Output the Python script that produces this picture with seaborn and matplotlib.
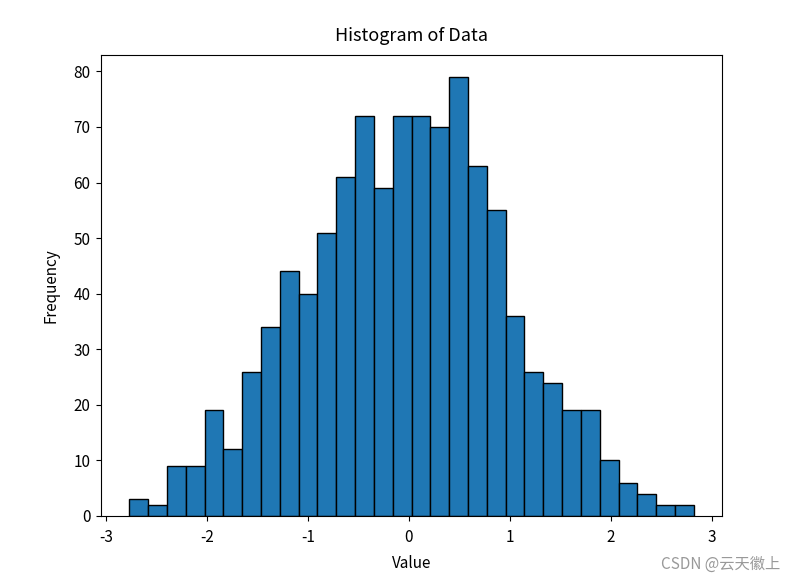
import numpy as np
import pandas as pd
import seaborn as sns
import matplotlib.pyplot as plt

# histogram counts (30 bins)
counts = [3, 2, 9, 9, 19, 12, 26, 34, 44, 40,
          51, 61, 72, 59, 72, 72, 70, 79, 63, 55,
          36, 26, 24, 19, 19, 10, 6, 4, 2, 2]
bin_lo = -2.77
bin_hi = 2.82

edges = np.linspace(bin_lo, bin_hi, len(counts) + 1)
centers = (edges[:-1] + edges[1:]) / 2
df = pd.DataFrame({'value': centers, 'count': counts})

plt.rcParams['font.family'] = ['Noto Sans CJK SC', 'DejaVu Sans']
plt.rcParams['axes.unicode_minus'] = False

fig = plt.figure(figsize=(7.96, 5.82), dpi=100)
ax = fig.add_axes([101 / 796, 66 / 582, 621 / 796, 461 / 582])

sns.histplot(data=df, x='value', weights='count', bins=list(edges),
             color='#1f77b4', edgecolor='black', linewidth=1, alpha=1, ax=ax)

ax.set_title('Histogram of Data', fontsize=13, pad=10)
ax.set_xlabel('Value', fontsize=11, labelpad=6)
ax.set_ylabel('Frequency', fontsize=11, labelpad=10)
ax.set_xlim(bin_lo - 0.05 * (bin_hi - bin_lo), bin_hi + 0.05 * (bin_hi - bin_lo))
ax.set_ylim(0, max(counts) * 1.05)
ax.set_xticks([-3, -2, -1, 0, 1, 2, 3])
ax.tick_params(labelsize=11)
ax.tick_params(axis='x', pad=6)
ax.tick_params(axis='y', pad=4)

# watermark from the screenshot
fig.text(0.98, 0.015, 'CSDN @云天徽上', ha='right', va='bottom',
         fontsize=11, color='#999999')

plt.savefig('out.png', dpi=100)
